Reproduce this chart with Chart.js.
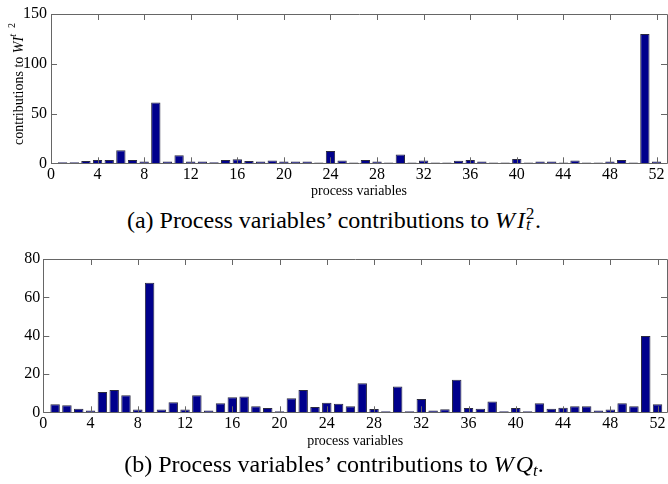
<!DOCTYPE html>
<html>
<head>
<meta charset="utf-8">
<script src="https://cdn.jsdelivr.net/npm/chart.js@4.4.1/dist/chart.umd.min.js"></script>
<style>
  body { margin: 0; background: #fff; width: 668px; height: 484px; position: relative; overflow: hidden;
         font-family: "Liberation Serif", "DejaVu Serif", serif; }
  .box { position: absolute; left: 0; width: 668px; }
  #boxA { top: 0; height: 202px; }
  #boxB { top: 240px; height: 212px; }
  .cap { position: absolute; left: 0; width: 668px; text-align: center; font-size: 24px; line-height: 28px; color: #000; }
  .m { font-style: italic; }
  .ss { display: inline-block; position: relative; width: 0.42em; height: 1em; }
  .ss span { position: absolute; left: 1px; font-size: 0.7em; line-height: 1; }
  .ss .sp { top: 0.12em; }
  .ss .sb { top: 0.78em; font-style: italic; }
  .sb2 { font-size: 0.7em; font-style: italic; vertical-align: -0.25em; }
</style>
</head>
<body>
<div class="box" id="boxA"><canvas id="chartA"></canvas></div>
<div class="cap" style="top:204px">(a) Process variables’ contributions to <span class="m">W</span>&#8202;<span class="m">I</span><span class="ss"><span class="sp">2</span><span class="sb">t</span></span>.</div>
<div class="box" id="boxB"><canvas id="chartB"></canvas></div>
<div class="cap" style="top:450px">(b) Process variables’ contributions to <span class="m">W</span>&#8202;<span class="m">Q</span><span class="sb2">t</span>.</div>
<script>
// process variable indices
const processVars = [1, 2, 3, 4, 5, 6, 7, 8, 9, 10, 11, 12, 13, 14, 15, 16, 17, 18, 19, 20, 21, 22, 23, 24, 25, 26,
                     27, 28, 29, 30, 31, 32, 33, 34, 35, 36, 37, 38, 39, 40, 41, 42, 43, 44, 45, 46, 47, 48, 49, 50, 51, 52];

// contributions to WI_t^2 (panel a)
const contribWI2 = [1, 1, 2.3, 3.3, 3.3, 13, 3.3, 1.7, 61, 1.7, 8, 1.7, 1.7, 1, 3.3, 4, 2.3, 1.7, 2.7, 1.7, 1.7, 1.7, 0.7, 12.3, 2.7, 0.7,
                    3.3, 1.7, 0.7, 8.8, 0.7, 2.7, 0.7, 0.7, 2.5, 3.3, 1.7, 0.7, 0.7, 4.3, 0.7, 1.7, 1.7, 0.7, 2.7, 0.7, 0.7, 1.7, 3.3, 0.7, 130, 1.7];

// contributions to WQ_t (panel b)
const contribWQ = [4.2, 3.7, 1.9, 0.9, 10.6, 11.7, 8.9, 1.4, 67.6, 1.4, 5.2, 1.4, 8.9, 0.9, 4.7, 7.8, 8.3, 3.1, 2.3, 0.5, 7.3, 11.7, 2.8, 5, 4.5, 3.1,
                   15.1, 1.7, 0.5, 13.4, 0.5, 7, 0.9, 1.6, 17, 2.3, 1.9, 5.6, 0.5, 2.3, 0.5, 4.7, 1.9, 2.4, 3.1, 3.1, 0.9, 1.4, 4.7, 3.1, 39.8, 4.2];

Chart.defaults.font.family = "'Liberation Serif', 'DejaVu Serif', serif";
Chart.defaults.color = '#000';

// matlab-like box with inward ticks
const framePlugin = {
    id: 'frame',
    afterDatasetsDraw(chart) {
        const { ctx, chartArea: a, scales: { x, y } } = chart;
        const len = 6;
        ctx.save();
        ctx.strokeStyle = '#666';
        ctx.lineWidth = 1;
        ctx.beginPath();
        x.ticks.forEach(t => {
            const px = Math.round(x.getPixelForValue(t.value)) + 0.5;
            ctx.moveTo(px, a.bottom); ctx.lineTo(px, a.bottom - len);
            ctx.moveTo(px, a.top); ctx.lineTo(px, a.top + len);
        });
        y.ticks.forEach(t => {
            const py = Math.round(y.getPixelForValue(t.value)) + 0.5;
            ctx.moveTo(a.left, py); ctx.lineTo(a.left + len, py);
            ctx.moveTo(a.right, py); ctx.lineTo(a.right - len, py);
        });
        ctx.rect(Math.round(a.left) + 0.5, Math.round(a.top) + 0.5, Math.round(a.width), Math.round(a.height));
        ctx.stroke();
        ctx.restore();
    }
};

// rotated y title with italic math parts
const yTitlePlugin = {
    id: 'ytitle',
    afterDraw(chart, args, opts) {
        const ctx = chart.ctx;
        const fontOf = p => (p.it ? 'italic ' : '') + p.size + "px 'Liberation Serif', serif";
        ctx.save();
        ctx.translate(opts.x, opts.y);
        ctx.rotate(-Math.PI / 2);
        ctx.fillStyle = '#000';
        ctx.textBaseline = 'alphabetic';
        let total = 0;
        opts.parts.forEach(p => {
            ctx.font = fontOf(p);
            p.w = ctx.measureText(p.t).width;
            total += p.w + (p.gap || 0);
        });
        let pos = -total / 2;
        opts.parts.forEach(p => {
            ctx.font = fontOf(p);
            pos += p.gap || 0;
            ctx.fillText(p.t, pos, 5 - (p.up || 0));
            pos += p.w;
        });
        ctx.restore();
    }
};

function makeChart(id, values, cfg) {
    return new Chart(document.getElementById(id), {
        type: 'bar',
        data: {
            labels: processVars,
            datasets: [{
                data: values,
                backgroundColor: '#00008c',
                borderColor: '#2a2a40',
                borderWidth: 1,
                barPercentage: 0.8,
                categoryPercentage: 1
            }]
        },
        options: {
            responsive: true,
            maintainAspectRatio: false,
            animation: false,
            events: [],
            layout: { padding: { top: cfg.top, right: 1, left: 0, bottom: 0 } },
            plugins: {
                legend: { display: false },
                tooltip: { enabled: false },
                ytitle: { x: 18, y: cfg.titleY, parts: cfg.parts }
            },
            scales: {
                x: {
                    type: 'linear',
                    offset: false,
                    min: 0,
                    max: cfg.xMax,
                    grid: { display: false, drawTicks: false, offset: false },
                    border: { display: false },
                    ticks: { stepSize: 4, includeBounds: false, autoSkip: false, maxRotation: 0, padding: 2, font: { size: 16 } },
                    title: { display: true, text: 'process variables', font: { size: 14 }, padding: { top: 0, bottom: 2 } },
                    afterFit: s => { s.height = cfg.xAxisH; }
                },
                y: {
                    min: 0,
                    max: cfg.yMax,
                    grid: { display: false, drawTicks: false },
                    border: { display: false },
                    ticks: { stepSize: cfg.yStep, padding: cfg.yPad, font: { size: 16 } },
                    afterFit: s => { s.width = cfg.yAxisW; }
                }
            }
        },
        plugins: [framePlugin, yTitlePlugin]
    });
}

makeChart('chartA', contribWI2, {
    top: 14, xMax: 52.9, yMax: 150, yStep: 50, yAxisW: 51, yPad: 4, xAxisH: 38.7, titleY: 84,
    parts: [
        { t: 'contributions to ', size: 14 },
        { t: 'WI', size: 14, it: true },
        { t: 't', size: 10, it: true, up: 7 },
        { t: '2', size: 10, up: 8, gap: 6 }
    ]
});

makeChart('chartB', contribWQ, {
    top: 19, xMax: 52.8, yMax: 80, yStep: 20, yAxisW: 43.3, yPad: 3, xAxisH: 39.7, titleY: 328,
    parts: [
        { t: 'contributions to ', size: 14 },
        { t: 'WQ', size: 14, it: true },
        { t: 't', size: 10, it: true, up: 6 }
    ]
});
</script>
</body>
</html>
